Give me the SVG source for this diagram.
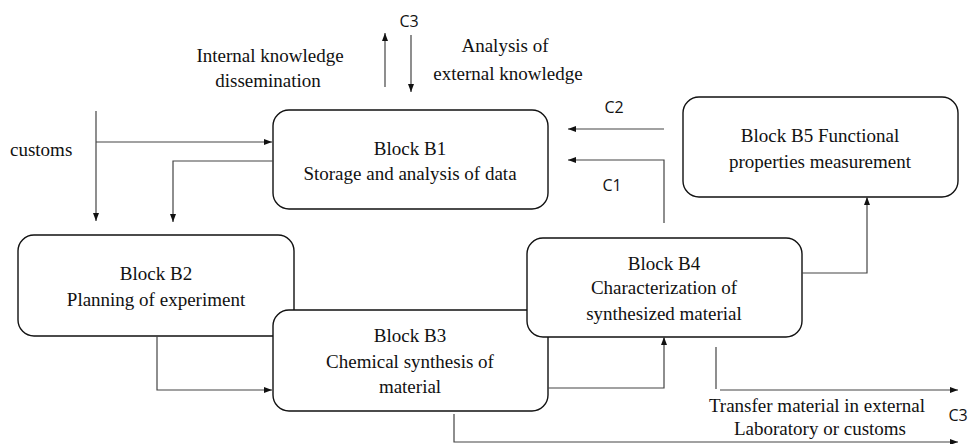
<svg xmlns="http://www.w3.org/2000/svg" width="971" height="444" viewBox="0 0 971 444">
<defs>
<marker id="ah" viewBox="0 0 8 6" refX="8" refY="3" markerWidth="8" markerHeight="6" markerUnits="userSpaceOnUse" orient="auto">
<path d="M0,0 L8,3 L0,6 Z" fill="#111"/>
</marker>
</defs>
<rect width="971" height="444" fill="#fff"/>
<g id="labels" fill="#111" text-anchor="middle">
<text font-family="Liberation Serif" font-size="19" x="270" y="62">Internal knowledge</text>
<text font-family="Liberation Serif" font-size="19" x="268" y="87">dissemination</text>
<text font-family="Liberation Serif" font-size="19" x="505" y="52">Analysis of</text>
<text font-family="Liberation Serif" font-size="19" x="508" y="80">external knowledge</text>
<text font-family="Liberation Serif" font-size="19" x="10" y="156" text-anchor="start">customs</text>
<text font-family="Liberation Serif" font-size="19" x="817" y="412">Transfer material in external</text>
<text font-family="Liberation Serif" font-size="19" x="820" y="435">Laboratory or customs</text>
<text font-family="Open Sans" font-size="16" x="409" y="27">C3</text>
<text font-family="Open Sans" font-size="16" x="614" y="113">C2</text>
<text font-family="Open Sans" font-size="16" x="612" y="191">C1</text>
<text font-family="Open Sans" font-size="16" x="958" y="421">C3</text>
</g>
<g stroke="#111" stroke-width="1.4" fill="#111" text-anchor="middle">
<g id="B2">
<rect fill="#fff" x="18" y="235" width="276" height="101" rx="16"/>
<text stroke="none" font-family="Liberation Serif" font-size="19" x="156" y="280">Block B2</text>
<text stroke="none" font-family="Liberation Serif" font-size="19" x="156" y="306">Planning of experiment</text>
</g>
<g id="B3">
<rect fill="#fff" x="273" y="310" width="275" height="101" rx="16"/>
<text stroke="none" font-family="Liberation Serif" font-size="19" x="410" y="342">Block B3</text>
<text stroke="none" font-family="Liberation Serif" font-size="19" x="410" y="368">Chemical synthesis of</text>
<text stroke="none" font-family="Liberation Serif" font-size="19" x="410" y="393">material</text>
</g>
<g id="B4">
<rect fill="#fff" x="527" y="238" width="275" height="99" rx="16"/>
<text stroke="none" font-family="Liberation Serif" font-size="19" x="664" y="270">Block B4</text>
<text stroke="none" font-family="Liberation Serif" font-size="19" x="664" y="294">Characterization of</text>
<text stroke="none" font-family="Liberation Serif" font-size="19" x="664" y="320">synthesized material</text>
</g>
<g id="B1">
<rect fill="#fff" x="273" y="110" width="275" height="99" rx="16"/>
<text stroke="none" font-family="Liberation Serif" font-size="19" x="410" y="155">Block B1</text>
<text stroke="none" font-family="Liberation Serif" font-size="19" x="410" y="180">Storage and analysis of data</text>
</g>
<g id="B5">
<rect fill="#fff" x="683" y="97" width="275" height="100" rx="16"/>
<text stroke="none" font-family="Liberation Serif" font-size="19" x="820" y="142">Block B5 Functional</text>
<text stroke="none" font-family="Liberation Serif" font-size="19" x="820" y="168">properties measurement</text>
</g>
</g>
<g id="connectors" fill="none" stroke="#444" stroke-width="1.2">
<path d="M385,87 V33" marker-end="url(#ah)"/>
<path d="M411,35 V92" marker-end="url(#ah)"/>
<path d="M96,111 V221" marker-end="url(#ah)"/>
<path d="M96,142 H272" marker-end="url(#ah)"/>
<path d="M273,161 H173 V222" marker-end="url(#ah)"/>
<path d="M157,336 V390 H272" marker-end="url(#ah)"/>
<path d="M548,388 L664,388 V337" marker-end="url(#ah)"/>
<path d="M802,273 H867 V197" marker-end="url(#ah)"/>
<path d="M664,129 H568" marker-end="url(#ah)"/>
<path d="M664,223 V160 H568" marker-end="url(#ah)"/>
<path d="M716,347 V389"/>
<path d="M720,390 H958" marker-end="url(#ah)"/>
<path d="M454,414 V442 H958" marker-end="url(#ah)"/>
</g>
</svg>
